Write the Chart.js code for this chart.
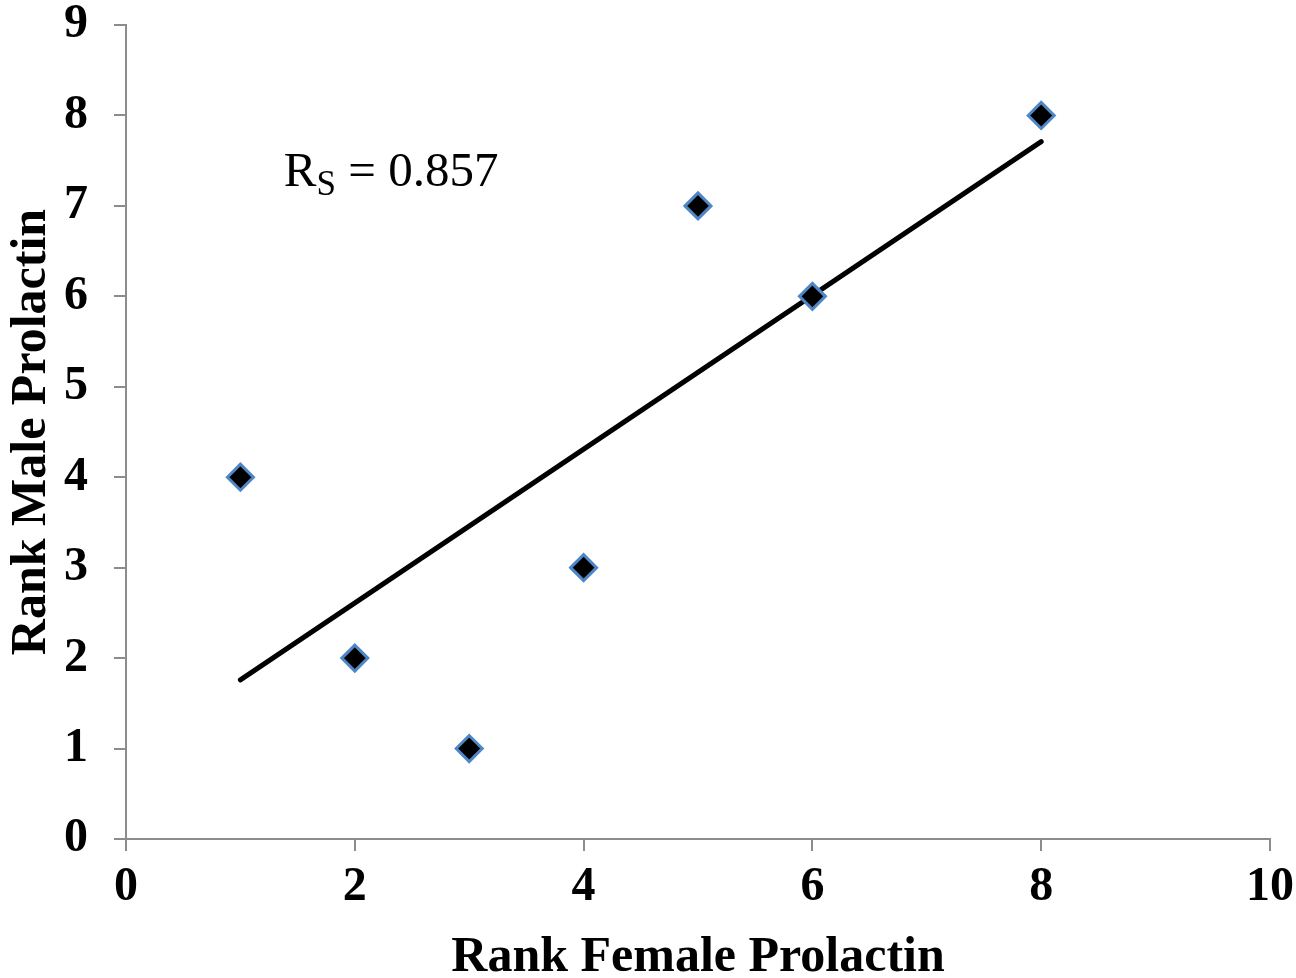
<!DOCTYPE html>
<html>
<head>
<meta charset="utf-8">
<script src="https://cdn.jsdelivr.net/npm/chart.js@4"></script>
<style>
	html, body { margin: 0; padding: 0; background: #fff; }
	#wrap { width: 1296px; height: 978px; }
</style>
</head>
<body>
<div id="wrap"><canvas id="rankChart"></canvas></div>
<script>
// ranks
const femaleRank = [1, 2, 3, 4, 5, 6, 8];
const maleRank = [4, 2, 1, 3, 7, 6, 8];
// fitted line end points
const fitX = [1, 8];
const fitY = [1.76, 7.71];
const xTicks = [0, 2, 4, 6, 8, 10];
const yTicks = [0, 1, 2, 3, 4, 5, 6, 7, 8, 9];

const serif = "'Liberation Serif', 'Times New Roman', serif";
const axisGray = '#8c8c8c';

// R_S label
const rsLabel = {
	id: 'rsLabel',
	afterDraw(chart) {
		const ctx = chart.ctx;
		const x = chart.scales.x.getPixelForValue(1.38);
		const y = chart.scales.y.getPixelForValue(7.22);
		ctx.save();
		ctx.fillStyle = '#000';
		ctx.textBaseline = 'alphabetic';
		ctx.font = '49px ' + serif;
		ctx.fillText('R', x, y);
		let w = ctx.measureText('R').width;
		ctx.font = '35px ' + serif;
		ctx.fillText('S', x + w, y + 9);
		w += ctx.measureText('S').width;
		ctx.font = '49px ' + serif;
		ctx.fillText(' = 0.857', x + w, y);
		ctx.restore();
	}
};

const ctx = document.getElementById('rankChart');
new Chart(ctx, {
	type: 'scatter',
	data: {
		datasets: [{
			label: 'Ranks',
			data: femaleRank.map((v, i) => ({x: v, y: maleRank[i]})),
			pointStyle: 'rectRot',
			pointRadius: 13,
			pointHoverRadius: 13,
			backgroundColor: '#000',
			borderColor: '#4f86c6',
			borderWidth: 3,
			order: 1,
		}, {
			label: 'Fit',
			type: 'line',
			data: fitX.map((v, i) => ({x: v, y: fitY[i]})),
			borderColor: '#000',
			borderWidth: 5,
			borderCapStyle: 'round',
			pointRadius: 0,
			fill: false,
			order: 2,
		}],
	},
	options: {
		responsive: true,
		maintainAspectRatio: false,
		animation: false,
		layout: {
			padding: {top: 25, right: 26, left: 0, bottom: 0},
		},
		plugins: {
			legend: {display: false},
			tooltip: {enabled: false},
		},
		scales: {
			x: {
				type: 'linear',
				min: 0,
				max: 10,
				afterBuildTicks: (s) => { s.ticks = xTicks.map(v => ({value: v})); },
				afterFit: (s) => { s.height = 139; s.paddingLeft = 0; s.paddingRight = 0; },
				grid: {drawOnChartArea: false, drawTicks: true, tickLength: 12, color: axisGray, lineWidth: 2},
				border: {display: true, color: axisGray, width: 2},
				ticks: {color: '#000', padding: 13, font: {family: serif, size: 48, weight: 'bold', lineHeight: 1}},
				title: {display: true, text: 'Rank Female Prolactin', color: '#000', padding: {top: 0, bottom: 0},
					font: {family: serif, size: 50, weight: 'bold', lineHeight: 0.8}},
			},
			y: {
				type: 'linear',
				min: 0,
				max: 9,
				afterBuildTicks: (s) => { s.ticks = yTicks.map(v => ({value: v})); },
				afterFit: (s) => { s.width = 126; s.paddingTop = 0; s.paddingBottom = 0; },
				grid: {drawOnChartArea: false, drawTicks: true, tickLength: 12, color: axisGray, lineWidth: 2},
				border: {display: true, color: axisGray, width: 2},
				ticks: {color: '#000', padding: 26, font: {family: serif, size: 48, weight: 'bold', lineHeight: 1}},
				title: {display: true, text: 'Rank Male Prolactin', color: '#000', padding: {top: 7, bottom: 0},
					font: {family: serif, size: 50, weight: 'bold', lineHeight: 1}},
			},
		},
	},
	plugins: [rsLabel],
});
</script>
</body>
</html>
